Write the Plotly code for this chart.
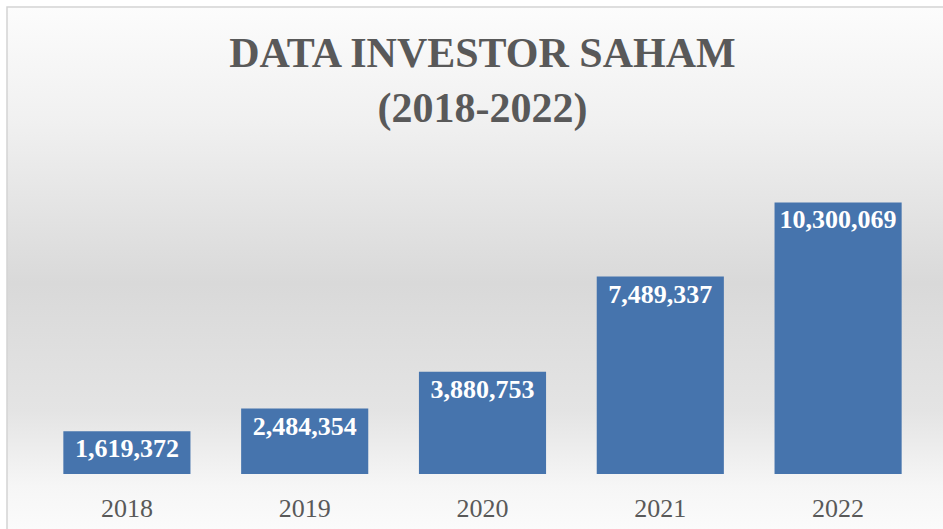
import base64
import plotly.graph_objects as go

# ---- data ----
years = ["2018", "2019", "2020", "2021", "2022"]
investors = [1619372, 2484354, 3880753, 7489337, 10300069]
title_lines = ["DATA INVESTOR SAHAM", "(2018-2022)"]

# ---- layout geometry (pixels) ----
W, H = 943, 529
ML, MR, MT, MB = 38, 16, 184, 55
PW, PH = W - ML - MR, H - MT - MB


def px_to_paper_x(px):
    return (px - ML) / PW


def px_to_paper_y(py):
    return (H - MB - py) / PH


# background gradient as svg
svg = (
    '<svg xmlns="http://www.w3.org/2000/svg" width="100" height="100" preserveAspectRatio="none">'
    '<defs><linearGradient id="g" x1="0" y1="0" x2="0" y2="1">'
    '<stop offset="0" stop-color="#fcfcfc"/>'
    '<stop offset="0.22" stop-color="#f0f0f0"/>'
    '<stop offset="0.52" stop-color="#d9d9d9"/>'
    '<stop offset="0.76" stop-color="#e4e4e4"/>'
    '<stop offset="0.9" stop-color="#f6f6f6"/>'
    '<stop offset="1" stop-color="#fcfcfc"/>'
    '</linearGradient></defs>'
    '<rect x="0" y="0" width="100" height="100" fill="url(#g)"/></svg>'
)
svg_uri = "data:image/svg+xml;base64," + base64.b64encode(svg.encode()).decode()

fig = go.Figure(
    go.Bar(
        x=years,
        y=investors,
        marker=dict(color="#4674AD", line=dict(width=0)),
        texttemplate="%{y:,}",
        textposition="inside",
        insidetextanchor="end",
        textangle=0,
        constraintext="none",
        textfont=dict(family="Liberation Serif", size=26, color="white", weight="bold"),
        hoverinfo="skip",
    )
)

fig.update_layout(
    width=W,
    height=H,
    margin=dict(l=ML, r=MR, t=MT, b=MB, pad=0),
    paper_bgcolor="white",
    plot_bgcolor="rgba(0,0,0,0)",
    bargap=0.285,
    showlegend=False,
    title=dict(
        text="<b>" + "<br>".join(title_lines) + "</b>",
        x=0.5,
        xanchor="center",
        xref="paper",
        y=1 - 67 / H,
        yanchor="top",
        yref="container",
        font=dict(family="Liberation Serif", size=42, color="#595959"),
    ),
    images=[
        dict(
            source=svg_uri,
            xref="paper",
            yref="paper",
            x=px_to_paper_x(7),
            y=px_to_paper_y(7),
            sizex=(W + 10 - 7) / PW,
            sizey=(H + 10 - 7) / PH,
            xanchor="left",
            yanchor="top",
            sizing="stretch",
            layer="below",
        )
    ],
    shapes=[
        dict(
            type="rect",
            xref="paper",
            yref="paper",
            x0=px_to_paper_x(7),
            x1=px_to_paper_x(W + 10),
            y0=px_to_paper_y(H + 10),
            y1=px_to_paper_y(7),
            line=dict(color="#d4d4d4", width=1.5),
            fillcolor="rgba(0,0,0,0)",
            layer="below",
        )
    ],
    xaxis=dict(
        showgrid=False,
        showline=False,
        zeroline=False,
        ticks="",
        tickfont=dict(family="Liberation Serif", size=26, color="#595959"),
        ticklabelstandoff=16,
        automargin=False,
        fixedrange=True,
    ),
    yaxis=dict(
        range=[0, 11000000],
        visible=False,
        showgrid=False,
        zeroline=False,
        automargin=False,
        fixedrange=True,
    ),
)

fig.write_html(
    "out.html",
    config={"displayModeBar": False},
    post_script="document.body.style.margin='0';document.body.style.overflow='hidden';",
)
